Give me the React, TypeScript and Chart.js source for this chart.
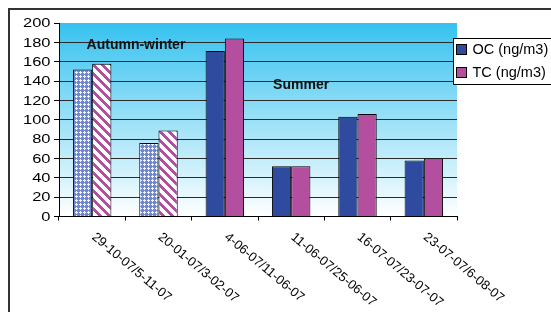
import React, { useEffect, useRef } from 'react';
import { Chart, registerables } from 'chart.js';

Chart.register(...registerables);

// ---- data ----
const categories = [
  '29-10-07/5-11-07',
  '20-01-07/3-02-07',
  '4-06-07/11-06-07',
  '11-06-07/25-06-07',
  '16-07-07/23-07-07',
  '23-07-07/6-08-07',
];
const ocValues = [152, 76, 171, 52, 103, 58];
const tcValues = [158, 89, 184, 52, 106, 60];
const seriesLabels = ['OC (ng/m3)', 'TC (ng/m3)'];
const winterCount = 2; // first categories drawn with patterns
const yMin = 0;
const yMax = 200;
const yStep = 20;
const annotationTexts = ['Autumn-winter', 'Summer'];
const annotationX = [0.66, 3.15];
const annotationY = [177, 136];

const OC_COLOR = '#2E4B9F';
const TC_COLOR = '#B44F9F';

function makeLatticePattern(ctx: CanvasRenderingContext2D) {
  const c = document.createElement('canvas');
  c.width = 4;
  c.height = 4;
  const g = c.getContext('2d')!;
  g.fillStyle = '#7387cf';
  g.fillRect(0, 0, 4, 4);
  g.fillStyle = '#f4f6fc';
  [[2, 1], [1, 2], [2, 2], [3, 2], [2, 3]].forEach(([x, y]) => g.fillRect(x, y, 1, 1));
  return ctx.createPattern(c, 'repeat')!;
}

function makeStripePattern(ctx: CanvasRenderingContext2D) {
  const n = 9;
  const c = document.createElement('canvas');
  c.width = n;
  c.height = n;
  const g = c.getContext('2d')!;
  g.fillStyle = '#ffffff';
  g.fillRect(0, 0, n, n);
  g.fillStyle = TC_COLOR;
  for (let y = 0; y < n; y++) {
    for (let x = 0; x < n; x++) {
      const d = (((x - y) % n) + n) % n;
      if (d < 4) g.fillRect(x, y, 1, 1);
    }
  }
  return ctx.createPattern(c, 'repeat')!;
}

const decorPlugin = {
  id: 'decor',
  beforeDraw(chart: any) {
    const { ctx, chartArea: a } = chart;
    const g = ctx.createLinearGradient(0, a.top, 0, a.bottom);
    g.addColorStop(0, '#36C2EF');
    g.addColorStop(1, '#FFFFFF');
    ctx.save();
    ctx.fillStyle = g;
    ctx.fillRect(a.left, a.top, a.right - a.left, a.bottom - a.top);
    ctx.restore();
  },
  afterDraw(chart: any) {
    const { ctx, chartArea: a } = chart;
    const xs = chart.scales.x;
    const ys = chart.scales.y;
    ctx.save();
    // y tick labels (slightly wide font, as in the reference)
    ctx.fillStyle = '#000';
    ctx.font = '13.5px "Liberation Sans", Arial, sans-serif';
    ctx.textAlign = 'right';
    ctx.textBaseline = 'middle';
    ys.ticks.forEach((t: any) => {
      const y = ys.getPixelForValue(t.value);
      ctx.save();
      ctx.translate(a.left - 8.5, y + 0.5);
      ctx.scale(1.22, 1);
      ctx.fillText(String(t.value), 0, 0);
      ctx.restore();
    });
    // x tick labels rotated clockwise
    ctx.font = '13px "Liberation Sans", Arial, sans-serif';
    ctx.textAlign = 'left';
    ctx.textBaseline = 'top';
    categories.forEach((lab, i) => {
      const x = xs.getPixelForValue(i);
      ctx.save();
      ctx.translate(x + 5.5, a.bottom + 14);
      ctx.rotate((40 * Math.PI) / 180);
      ctx.fillText(lab, 0, 0);
      ctx.restore();
    });
    // annotations
    ctx.font = 'bold 14px "Liberation Sans", Arial, sans-serif';
    ctx.textAlign = 'center';
    ctx.textBaseline = 'middle';
    ctx.fillStyle = '#111';
    annotationTexts.forEach((t, i) => {
      ctx.fillText(t, xs.getPixelForValue(annotationX[i]), ys.getPixelForValue(annotationY[i]));
    });
    // legend box
    const bx = a.right - 3.5;
    const by = 28.5;
    ctx.fillStyle = '#fff';
    ctx.fillRect(bx, by, 200, 46);
    ctx.strokeStyle = '#000';
    ctx.lineWidth = 1;
    ctx.strokeRect(bx, by, 200, 46);
    ctx.font = '14.5px "Liberation Sans", Arial, sans-serif';
    ctx.textAlign = 'left';
    ctx.textBaseline = 'middle';
    const colors = [OC_COLOR, TC_COLOR];
    seriesLabels.forEach((lab, i) => {
      const cy = by + 11 + i * 23;
      ctx.fillStyle = colors[i];
      ctx.fillRect(bx + 3, cy - 5, 10, 10);
      ctx.strokeStyle = '#000';
      ctx.strokeRect(bx + 3, cy - 5, 10, 10);
      ctx.fillStyle = '#000';
      ctx.fillText(lab, bx + 19, cy + 0.5);
    });
    ctx.restore();
  },
};

export default function App() {
  const ref = useRef<HTMLCanvasElement | null>(null);
  useEffect(() => {
    document.documentElement.style.overflow = 'hidden';
    document.body.style.margin = '0';
    const canvas = ref.current!;
    const ctx = canvas.getContext('2d')!;
    const lattice = makeLatticePattern(ctx);
    const stripes = makeStripePattern(ctx);
    const ocBg = ocValues.map((_, i) => (i < winterCount ? lattice : OC_COLOR));
    const tcBg = tcValues.map((_, i) => (i < winterCount ? stripes : TC_COLOR));
    const chart = new Chart(canvas, {
      type: 'bar',
      data: {
        labels: categories,
        datasets: [
          {
            label: seriesLabels[0],
            data: ocValues,
            backgroundColor: ocBg as any,
            borderColor: '#000',
            borderWidth: 1,
            categoryPercentage: 0.58,
            barPercentage: 1,
          },
          {
            label: seriesLabels[1],
            data: tcValues,
            backgroundColor: tcBg as any,
            borderColor: '#000',
            borderWidth: 1,
            categoryPercentage: 0.58,
            barPercentage: 1,
          },
        ],
      },
      options: {
        responsive: false,
        animation: false,
        devicePixelRatio: 1,
        layout: { padding: { top: 13, right: 94, left: 0, bottom: 0 } },
        plugins: { legend: { display: false }, tooltip: { enabled: false } },
        scales: {
          x: {
            type: 'category',
            offset: true,
            grid: {
              offset: true,
              drawOnChartArea: false,
              drawTicks: true,
              tickLength: 4,
              tickColor: '#000',
            },
            border: { display: true, color: '#000', width: 1 },
            ticks: { display: false, autoSkip: false },
            afterFit: (s: any) => {
              s.height = 95.5;
            },
          },
          y: {
            min: yMin,
            max: yMax,
            ticks: { display: false, stepSize: yStep },
            grid: {
              color: (c: any) =>
                c.tick && (c.tick.value === yMin || c.tick.value === yMax) ? 'rgba(0,0,0,0)' : '#2a2a2a',
              drawTicks: true,
              tickLength: 5,
              tickColor: '#000',
            },
            border: { display: true, color: '#000', width: 1 },
            afterFit: (s: any) => {
              s.width = 49;
            },
          },
        },
      },
      plugins: [decorPlugin],
    });
    return () => chart.destroy();
  }, []);
  return (
    <div style={{ width: 551, height: 312, paddingLeft: 8, paddingTop: 8, boxSizing: 'border-box', overflow: 'hidden' }}>
      <div
        style={{
          width: 543,
          height: 304,
          boxSizing: 'border-box',
          borderTop: '2px solid #333',
          borderLeft: '2px solid #333',
          background: '#fff',
        }}
      >
        <canvas ref={ref} width={541} height={302} style={{ display: 'block', width: 541, height: 302 }} />
      </div>
    </div>
  );
}
